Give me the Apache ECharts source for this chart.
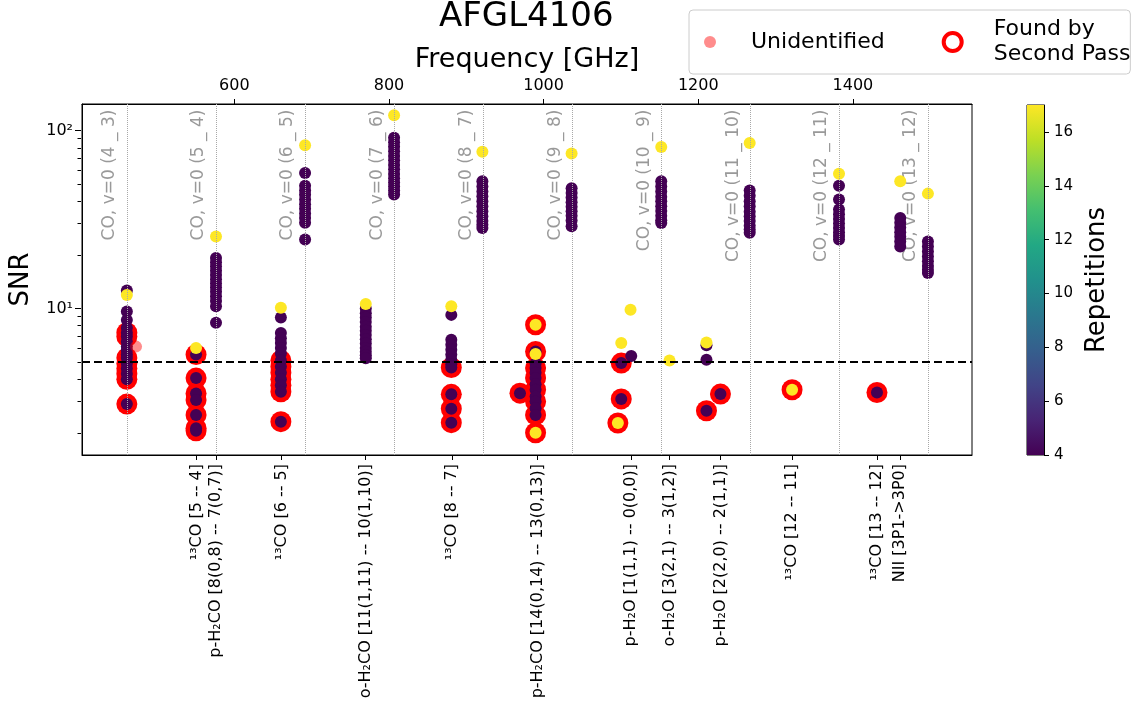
<!DOCTYPE html>
<html><head><meta charset="utf-8">
<script src="https://cdn.jsdelivr.net/npm/echarts@6/dist/echarts.min.js"></script>
<style>html,body{margin:0;padding:0;background:#fff}#chart{width:1136px;height:719px}</style>
</head><body><div id="chart"></div>
<script>
// ---------------- data ----------------
const chartTitle = 'AFGL4106';
const coLineFreqs = [461.04, 576.27, 691.47, 806.65, 921.80, 1036.91, 1151.99, 1267.01, 1381.99, 1496.92];
const coLineNames = ['CO, v=0 (4 _ 3)', 'CO, v=0 (5 _ 4)', 'CO, v=0 (6 _ 5)', 'CO, v=0 (7 _ 6)', 'CO, v=0 (8 _ 7)',
  'CO, v=0 (9 _ 8)', 'CO, v=0 (10 _ 9)', 'CO, v=0 (11 _ 10)', 'CO, v=0 (12 _ 11)', 'CO, v=0 (13 _ 12)'];
const idLineFreqs = [550.93, 576.71, 661.07, 769.9, 881.27, 991.9, 1113.34, 1162.91, 1228.79, 1321.07, 1431.15, 1461.13];
const idLineNames = ['¹³CO [5 -- 4]', 'p-H₂CO [8(0,8) -- 7(0,7)]', '¹³CO [6 -- 5]', 'o-H₂CO [11(1,11) -- 10(1,10)]',
  '¹³CO [8 -- 7]', 'p-H₂CO [14(0,14) -- 13(0,13)]', 'p-H₂O [1(1,1) -- 0(0,0)]', 'o-H₂O [3(2,1) -- 3(1,2)]',
  'p-H₂O [2(2,0) -- 2(1,1)]', '¹³CO [12 -- 11]', '¹³CO [13 -- 12]', 'NII [3P1->3P0]'];
const freqTicks = [600, 800, 1000, 1200, 1400];
const snrMajorTicks = [10, 100];
const snrMinorTicks = [2, 3, 4, 5, 6, 7, 8, 9, 20, 30, 40, 50, 60, 70, 80, 90];
const repTicks = [4, 6, 8, 10, 12, 14, 16];
const snrThreshold = 5;
// [frequency GHz, SNR, repetitions, found by second pass (1/0)]
const detections = [
  // CO 4-3
  [461.0,12.6,4,0],[461.0,11.9,17,0],[461.0,9.6,4,0],[461.0,8.6,4,0],[461.0,7.8,4,0],[461.0,7.3,4,1],[461.0,6.95,4,1],
  [461.0,6.5,4,0],[461.0,6.1,4,0],[461.0,5.8,4,0],[461.0,5.5,4,0],[461.0,5.27,4,1],[461.0,4.9,4,1],[461.0,4.6,4,1],
  [461.0,4.3,4,1],[461.0,4.0,4,1],[461.0,2.9,4,1],
  // 13CO 5-4
  [550.5,6.0,17,0],[550.5,5.5,4,1],[550.5,4.06,4,1],[550.5,3.33,4,1],[550.5,3.06,4,1],[550.5,2.52,4,1],[550.5,2.12,4,1],[550.5,2.05,4,1],
  // CO 5-4
  [576.3,25.4,17,0],[576.3,19.2,4,0],[576.3,18.2,4,0],[576.3,17.2,4,0],[576.3,16.3,4,0],[576.3,15.4,4,0],[576.3,14.6,4,0],
  [576.3,13.8,4,0],[576.3,13.1,4,0],[576.3,12.4,4,0],[576.3,11.7,4,0],[576.3,11.0,4,0],[576.3,10.3,4,0],[576.3,8.3,4,0],
  // 13CO 6-5
  [660.2,10.1,17,0],[660.2,8.9,4,0],[660.2,7.27,4,0],[660.2,6.8,4,0],[660.2,6.4,4,0],[660.2,6.0,4,0],[660.2,5.6,4,0],
  [660.2,5.1,4,1],[660.2,4.7,4,1],[660.2,4.35,4,1],[660.2,4.0,4,1],[660.2,3.7,4,1],[660.2,3.4,4,1],[660.2,2.31,4,1],
  // CO 6-5
  [691.5,82.6,17,0],[691.5,57.8,4,0],[691.5,49,4,0],[691.5,46,4,0],[691.5,43.5,4,0],[691.5,41,4,0],[691.5,38.5,4,0],
  [691.5,36.3,4,0],[691.5,34.2,4,0],[691.5,32.2,4,0],[691.5,30.3,4,0],[691.5,24.4,4,0],
  // o-H2CO
  [770.0,10.6,17,0],[770.0,10.0,4,0],[770.0,9.4,4,0],[770.0,8.9,4,0],[770.0,8.4,4,0],[770.0,7.9,4,0],[770.0,7.5,4,0],
  [770.0,7.1,4,0],[770.0,6.7,4,0],[770.0,6.35,4,0],[770.0,6.0,4,0],[770.0,5.7,4,0],[770.0,5.45,4,0],[770.0,5.25,4,0],
  // CO 7-6
  [806.6,122,17,0],[806.6,91,4,0],[806.6,86,4,0],[806.6,81,4,0],[806.6,76.5,4,0],[806.6,72,4,0],[806.6,68,4,0],
  [806.6,64,4,0],[806.6,60.5,4,0],[806.6,57,4,0],[806.6,54,4,0],[806.6,51,4,0],[806.6,48.5,4,0],[806.6,46,4,0],[806.6,43.7,4,0],
  // 13CO 8-7
  [880.6,10.3,17,0],[880.6,9.2,4,0],[880.6,6.67,4,0],[880.6,6.25,4,0],[880.6,5.85,4,0],[880.6,5.5,4,0],[880.6,5.15,4,0],
  [880.6,4.85,4,0],[880.6,4.65,4,1],[880.6,3.29,4,1],[880.6,2.73,4,1],[880.6,2.28,4,1],
  // CO 8-7
  [920.8,75.9,17,0],[920.8,51.8,4,0],[920.8,48.5,4,0],[920.8,45.5,4,0],[920.8,42.7,4,0],[920.8,40,4,0],[920.8,37.5,4,0],
  [920.8,35.2,4,0],[920.8,33,4,0],[920.8,31,4,0],[920.8,29.5,4,0],[920.8,28.3,4,0],
  // p-H2CO 14-13
  [989.6,8.1,17,1],[989.6,5.73,4,1],[989.6,5.55,17,0],[989.6,4.9,4,0],[989.6,4.62,4,1],[989.6,4.35,4,0],[989.6,4.07,4,1],
  [989.6,3.75,4,0],[989.6,3.49,4,1],[989.6,3.2,4,0],[989.6,3.0,4,1],[989.6,2.75,4,0],[989.6,2.52,4,1],[989.6,2.0,17,1],
  [969.4,3.34,4,1],
  // CO 9-8
  [1036.2,74.2,17,0],[1036.2,47.4,4,0],[1036.2,44.5,4,0],[1036.2,42,4,0],[1036.2,39.5,4,0],[1036.2,37.3,4,0],
  [1036.2,35.2,4,0],[1036.2,33.2,4,0],[1036.2,31.2,4,0],[1036.2,29,4,0],
  // p-H2O 1(1,1)-0(0,0)
  [1100.4,4.93,4,1],[1113.3,5.41,4,0],[1100.4,6.39,17,0],[1112.4,9.84,17,0],[1100.4,3.1,4,1],[1096.0,2.27,17,1],
  // o-H2O
  [1162.8,5.1,17,0],
  // CO 10-9
  [1152.1,80.9,17,0],[1152.1,51.8,4,0],[1152.1,48.5,4,0],[1152.1,45.5,4,0],[1152.1,42.5,4,0],[1152.1,40,4,0],
  [1152.1,37.5,4,0],[1152.1,35.3,4,0],[1152.1,33.2,4,0],[1152.1,31.3,4,0],[1152.1,30.2,4,0],
  // p-H2O 2(2,0)-2(1,1)
  [1210.6,6.2,4,0],[1210.6,6.44,17,0],[1210.6,5.14,4,0],[1210.6,2.66,4,1],[1228.7,3.3,4,1],
  // CO 11-10
  [1266.5,85,17,0],[1266.5,46,4,0],[1266.5,43,4,0],[1266.5,40,4,0],[1266.5,37.5,4,0],[1266.5,35,4,0],
  [1266.5,33,4,0],[1266.5,31,4,0],[1266.5,29.2,4,0],[1266.5,27.8,4,0],[1266.5,26.6,4,0],
  // 13CO 12-11
  [1321.3,3.49,17,1],
  // CO 12-11
  [1382.0,57.2,17,0],[1382.0,49,4,0],[1382.0,40.9,4,0],[1382.0,36,4,0],[1382.0,33.8,4,0],[1382.0,31.8,4,0],
  [1382.0,30,4,0],[1382.0,28.3,4,0],[1382.0,26.8,4,0],[1382.0,25.5,4,0],[1382.0,24.4,4,0],
  // 13CO 13-12
  [1431.1,3.37,4,1],
  // NII
  [1461.2,51.8,17,0],[1461.2,32.2,4,0],[1461.2,30.3,4,0],[1461.2,28.5,4,0],[1461.2,26.8,4,0],[1461.2,25.3,4,0],
  [1461.2,23.8,4,0],[1461.2,22.3,4,0],
  // CO 13-12
  [1497.0,44.2,17,0],[1497.0,23.8,4,0],[1497.0,22.3,4,0],[1497.0,20.9,4,0],[1497.0,19.6,4,0],[1497.0,18.4,4,0],
  [1497.0,17.3,4,0],[1497.0,16.5,4,0],[1497.0,15.8,4,0]
];
const unidentified = [[472.9, 6.1]];

// ---------------- axes ranges ----------------
const xMin = 403, xMax = 1554;
const yMin = 1.5, yMax = 141;
const repMin = 4, repMax = 17;

const viridis = ['#440154','#482475','#414487','#355f8d','#2a788e','#21918c','#22a884','#44bf70','#7ad151','#bddf26','#fde725'];
const sup = {0:'⁰',1:'¹',2:'²',3:'³'};

const chart = echarts.init(document.getElementById('chart'), null, {renderer: 'canvas'});
const detSorted = detections.slice().sort((a, b) => a[2] - b[2]);
const secondPass = detections.filter(d => d[3] === 1).map(d => [d[0], d[1]]);
const labelY = yMax * 0.93;

const plotRect = {left: 81, top: 104, width: 891, height: 351};

// overlay grids carrying the log-SNR tick marks (positions in log10 space)
function tickYAxis(gridIndex, values, len) {
  return {
    type: 'value', gridIndex: gridIndex, position: 'left',
    min: Math.log10(yMin), max: Math.log10(yMax),
    axisLine: {show: false},
    axisTick: {show: true, length: len, lineStyle: {color: '#000'}, customValues: values.map(v => Math.log10(v))},
    axisLabel: {show: false}, splitLine: {show: false}
  };
}
function hiddenXAxis(gridIndex) {
  return {type: 'value', gridIndex: gridIndex, min: 0, max: 1, show: false};
}

const option = {
  animation: false,
  textStyle: {fontFamily: 'DejaVu Sans', color: '#000'},
  title: {
    text: chartTitle, left: 439, top: 0, padding: 0,
    textStyle: {fontSize: 34, fontWeight: 'normal', color: '#000', fontFamily: 'DejaVu Sans'}
  },
  legend: {
    left: 689, top: 10, orient: 'horizontal',
    padding: [7, 0, 7, 10],
    itemWidth: 72, itemHeight: 22, itemGap: 55,
    borderColor: '#cccccc', borderWidth: 1, borderRadius: 4,
    backgroundColor: '#fff',
    textStyle: {fontSize: 22, color: '#000', lineHeight: 25, fontFamily: 'DejaVu Sans'},
    formatter: name => name === 'Found by Second Pass' ? 'Found by\nSecond Pass' : name,
    data: [
      {name: 'Unidentified', icon: 'path://M0,0M22,22M17,11A6,6,0,1,1,5,11A6,6,0,1,1,17,11Z'},
      {name: 'Found by Second Pass', icon: 'path://M0,0M22,22M20,11A9,9,0,1,1,2,11A9,9,0,1,1,20,11Z',
       itemStyle: {color: '#ffffff', borderColor: '#ff0000', borderWidth: 4, opacity: 1}}
    ]
  },
  grid: [
    Object.assign({show: true, borderColor: '#000', borderWidth: 1, backgroundColor: 'transparent'}, plotRect),
    {left: 1027, top: 105, width: 17, height: 350, show: true, borderColor: '#000', borderWidth: 1, backgroundColor: 'transparent'},
    Object.assign({show: false}, plotRect),
    Object.assign({show: false}, plotRect)
  ],
  visualMap: {
    type: 'continuous', show: false, min: repMin, max: repMax, dimension: 2, seriesIndex: 2,
    inRange: {color: viridis}
  },
  xAxis: [
    {
      type: 'value', gridIndex: 0, position: 'bottom', min: xMin, max: xMax,
      axisLine: {show: true, lineStyle: {color: '#000', width: 1}},
      axisTick: {show: true, length: 5, lineStyle: {color: '#000'}, customValues: idLineFreqs},
      axisLabel: {
        show: true, customValues: idLineFreqs, rotate: 90, fontSize: 16, color: '#000', margin: 9,
        formatter: v => { const i = idLineFreqs.indexOf(v); return i >= 0 ? idLineNames[i] : ''; }
      },
      splitLine: {show: false}
    },
    {
      type: 'value', gridIndex: 0, position: 'top', min: xMin, max: xMax,
      name: 'Frequency [GHz]', nameLocation: 'middle', nameGap: 31,
      nameTextStyle: {fontSize: 27, color: '#000'},
      axisLine: {show: true, lineStyle: {color: '#000', width: 1}},
      axisTick: {show: true, length: 5, lineStyle: {color: '#000'}, customValues: freqTicks},
      axisLabel: {show: true, customValues: freqTicks, fontSize: 16, color: '#000', margin: 10, formatter: v => String(v)},
      splitLine: {show: false}
    },
    {type: 'category', gridIndex: 1, data: ['bar'], show: false, boundaryGap: true},
    hiddenXAxis(2),
    hiddenXAxis(3)
  ],
  yAxis: [
    {
      type: 'log', logBase: 10, gridIndex: 0, position: 'left', min: yMin, max: yMax,
      name: 'SNR', nameLocation: 'middle', nameGap: 48, nameRotate: 90,
      nameTextStyle: {fontSize: 26, color: '#000'},
      axisLine: {show: true, lineStyle: {color: '#000', width: 1}},
      axisTick: {show: false},
      axisLabel: {
        fontSize: 16, color: '#000', margin: 9,
        formatter: v => { const l = Math.log10(v); const r = Math.round(l); return Math.abs(l - r) < 1e-6 ? '10' + sup[r] : ''; }
      },
      splitLine: {show: false}
    },
    {
      type: 'value', gridIndex: 1, position: 'right', min: repMin, max: repMax,
      name: 'Repetitions', nameLocation: 'middle', nameGap: 40, nameRotate: 90,
      nameTextStyle: {fontSize: 26, color: '#000'},
      axisLine: {show: true, lineStyle: {color: '#000', width: 1}},
      axisTick: {show: true, length: 5, lineStyle: {color: '#000'}, customValues: repTicks},
      axisLabel: {show: true, customValues: repTicks, fontSize: 15, color: '#000', margin: 10},
      splitLine: {show: false}
    },
    tickYAxis(2, snrMajorTicks, 6),
    tickYAxis(3, snrMinorTicks, 3.5)
  ],
  series: [
    {
      name: 'CO lines', type: 'scatter', xAxisIndex: 0, yAxisIndex: 0, z: 1, silent: true,
      symbolSize: 0,
      data: coLineFreqs.map((f, i) => [f, labelY, coLineNames[i]]),
      label: {
        show: true, position: 'inside', rotate: 90, align: 'right', verticalAlign: 'middle',
        offset: [0, -17], fontSize: 17, color: '#808080',
        formatter: p => p.data[2]
      },
      markLine: {
        silent: true, symbol: ['none', 'none'], label: {show: false}, animation: false,
        data: coLineFreqs.map(f => ({xAxis: f, lineStyle: {color: '#a8a8a8', width: 1, type: 'dotted'}}))
          .concat([{yAxis: snrThreshold, lineStyle: {color: '#000', width: 2, type: [8, 4]}}])
      }
    },
    {
      name: 'Found by Second Pass', type: 'scatter', xAxisIndex: 0, yAxisIndex: 0, z: 2,
      symbol: 'circle', symbolSize: 21, itemStyle: {color: '#ff0000', opacity: 1},
      data: secondPass
    },
    {
      name: 'Detections', type: 'scatter', xAxisIndex: 0, yAxisIndex: 0, z: 3,
      symbol: 'circle', symbolSize: 12, itemStyle: {opacity: 1},
      data: detSorted.map(d => [d[0], d[1], d[2]])
    },
    {
      name: 'Unidentified', type: 'scatter', xAxisIndex: 0, yAxisIndex: 0, z: 4,
      symbol: 'circle', symbolSize: 12, itemStyle: {color: 'rgba(255,0,0,0.45)', opacity: 1},
      data: unidentified
    },
    {
      name: 'cbBase', type: 'bar', xAxisIndex: 2, yAxisIndex: 1, stack: 'cb', barWidth: '100%', silent: true,
      itemStyle: {color: 'rgba(0,0,0,0)'}, data: [repMin]
    },
    {
      name: 'cbBar', type: 'bar', xAxisIndex: 2, yAxisIndex: 1, stack: 'cb', barWidth: '100%', silent: true,
      itemStyle: {color: new echarts.graphic.LinearGradient(0, 1, 0, 0,
        viridis.map((c, i) => ({offset: i / (viridis.length - 1), color: c})))},
      data: [repMax - repMin]
    }
  ]
};
chart.setOption(option);
</script>
</body></html>
